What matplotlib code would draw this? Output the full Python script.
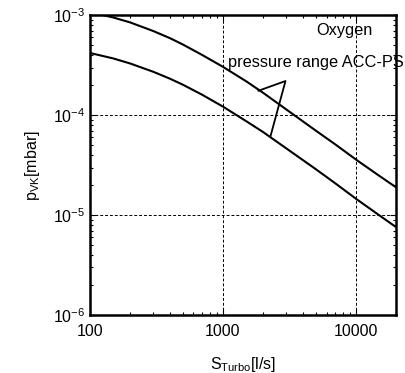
import matplotlib
matplotlib.use("Agg")
import matplotlib.pyplot as plt
from matplotlib.ticker import LogLocator, FixedLocator, FixedFormatter, NullFormatter

plt.rcParams['font.family'] = ['Liberation Sans', 'DejaVu Sans']
plt.rcParams['mathtext.fontset'] = 'custom'
plt.rcParams['mathtext.rm'] = 'Liberation Sans'
plt.rcParams['mathtext.it'] = 'Liberation Sans:italic'

# pumping speed of the turbo pump [l/s]
s_turbo = [100, 150, 200, 300, 400, 500, 700, 1000, 1500, 2000, 3000, 5000, 7000, 10000, 15000, 20000]
# pressure in the vacuum chamber [mbar], upper and lower bound
p_upper = [1.08e-3, 9.5e-4, 8.5e-4, 6.95e-4, 5.9e-4, 5.1e-4, 4.0e-4, 3.05e-4,
           2.18e-4, 1.68e-4, 1.14e-4, 7.0e-5, 5.1e-5, 3.6e-5, 2.47e-5, 1.9e-5]
p_lower = [4.2e-4, 3.7e-4, 3.3e-4, 2.72e-4, 2.32e-4, 2.02e-4, 1.6e-4, 1.22e-4,
           8.7e-5, 6.8e-5, 4.65e-5, 2.88e-5, 2.08e-5, 1.46e-5, 9.95e-6, 7.6e-6]

x_ticks = [100, 1000, 10000]
x_tick_labels = ['100', '1000', '10000']
y_ticks = [1e-6, 1e-5, 1e-4, 1e-3]
y_tick_labels = ['$10^{-6}$', '$10^{-5}$', '$10^{-4}$', '$10^{-3}$']

fig = plt.figure(figsize=(4.05, 3.73), dpi=100)
ax = fig.add_axes([0.222, 0.155, 0.756, 0.804])

ax.plot(s_turbo, p_upper, color='black', linewidth=1.5)
ax.plot(s_turbo, p_lower, color='black', linewidth=1.5)

ax.set_xscale('log')
ax.set_yscale('log')
ax.set_xlim(100, 20000)
ax.set_ylim(1e-6, 1e-3)

ax.xaxis.set_major_locator(FixedLocator(x_ticks))
ax.xaxis.set_major_formatter(FixedFormatter(x_tick_labels))
ax.yaxis.set_major_locator(FixedLocator(y_ticks))
ax.yaxis.set_major_formatter(FixedFormatter(y_tick_labels))
ax.xaxis.set_minor_locator(LogLocator(base=10, subs=range(2, 10)))
ax.yaxis.set_minor_locator(LogLocator(base=10, subs=range(2, 10)))
ax.xaxis.set_minor_formatter(NullFormatter())
ax.yaxis.set_minor_formatter(NullFormatter())

ax.tick_params(which='both', direction='in', top=True, right=True, labelsize=11.5, colors='black')
ax.tick_params(which='major', length=4, width=0.8)
ax.tick_params(which='minor', length=2.5, width=0.8)
ax.tick_params(axis='x', pad=6)
ax.grid(True, which='major', color='black', linestyle=(0, (3, 2)), linewidth=0.7)

for sp in ax.spines.values():
    sp.set_linewidth(1.8)

ax.set_xlabel('S$_{\\mathrm{Turbo}}$[l/s]', fontsize=11.5, labelpad=12)
ax.set_ylabel('p$_{\\mathrm{VK}}$[mbar]', fontsize=11.5, labelpad=8)

ax.text(5050, 7.1e-4, 'Oxygen', fontsize=11.8, va='center', ha='left')
ax.text(1100, 3.4e-4, 'pressure range ACC-PS', fontsize=11.8, va='center', ha='left', clip_on=False)

# pointer lines from the label to both curves
tip = (2950, 2.2e-4)
ax.plot([1850, tip[0], 2270], [1.76e-4, tip[1], 6.1e-5], color='black', linewidth=1.3)

fig.savefig('out.png', dpi=100)
